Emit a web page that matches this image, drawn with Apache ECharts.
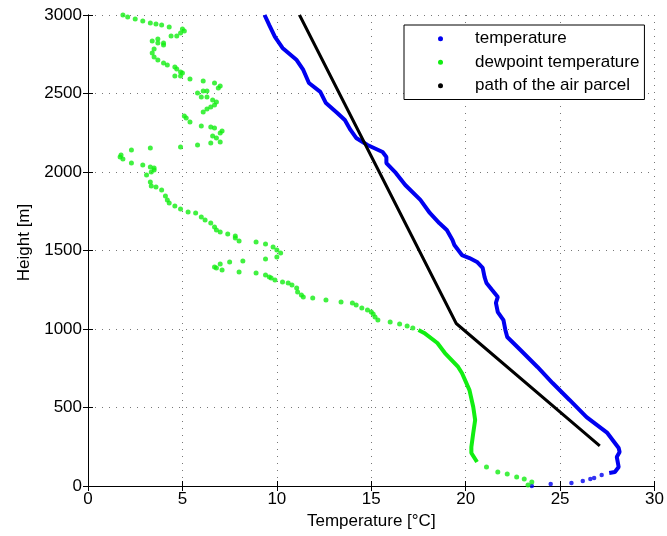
<!DOCTYPE html>
<html>
<head>
<meta charset="utf-8">
<script src="https://cdn.jsdelivr.net/npm/echarts@6/dist/echarts.min.js"></script>
<style>
  html, body { margin: 0; padding: 0; background: #fff; }
  #chart { width: 667px; height: 536px; }
</style>
</head>
<body>
<div id="chart"></div>
<script>
// temperature sounding, dense part drawn as a line: [temperature °C, height m]
const tempLine = [
    [27.6, 83], [27.9, 89], [28.1, 121], [28.0, 185], [28.15, 217], [28.1, 242],
    [27.5, 338], [26.4, 439], [25.5, 548], [24.6, 656], [23.8, 758], [22.9, 866],
    [22.2, 949], [22.1, 994], [22.0, 1057], [21.7, 1108], [21.6, 1166], [21.7, 1204],
    [21.4, 1248], [21.1, 1293], [21.0, 1331], [20.9, 1389], [20.6, 1427], [20.2, 1452],
    [19.8, 1471], [19.4, 1535], [19.3, 1567], [19.0, 1631], [18.6, 1675], [18.1, 1739],
    [17.6, 1822], [16.8, 1917], [16.3, 1994], [15.8, 2057], [15.8, 2096], [15.6, 2127],
    [14.8, 2172], [14.2, 2217], [13.9, 2268], [13.6, 2331], [13.2, 2376], [12.6, 2439],
    [12.3, 2510], [11.7, 2567], [11.4, 2650], [11.05, 2713], [10.3, 2790], [9.9, 2860],
    [9.6, 2936], [9.35, 3000]
];
// temperature readings near the ground (separate dots)
const tempDots = [
    [23.5, 0], [24.5, 13], [25.6, 19], [26.2, 32], [26.6, 45], [26.8, 51], [27.2, 70]
];

// dewpoint, dense part 150-1000 m
const dewLine = [
    [20.6, 153], [20.3, 210], [20.3, 248], [20.4, 338], [20.5, 420], [20.4, 503],
    [20.2, 611], [19.8, 720], [19.6, 758], [18.9, 847], [18.5, 911], [17.8, 975], [17.5, 994]
];
// dewpoint, scattered readings
const dewDots = [
    [23.3, 6], [23.5, 25], [23.1, 45], [22.7, 57], [22.2, 76], [21.7, 89], [21.1, 121],
    [17.2, 1006], [16.9, 1019], [16.5, 1032], [16.0, 1045], [15.35, 1057], [15.2, 1076],
    [15.1, 1096], [15.0, 1108], [14.8, 1121], [14.5, 1134], [14.2, 1153], [14.0, 1166],
    [13.4, 1172], [12.6, 1185], [11.9, 1197], [11.4, 1204], [11.3, 1217], [11.1, 1236],
    [11.05, 1261], [10.8, 1280], [10.6, 1293], [10.3, 1299], [9.9, 1312], [9.7, 1325],
    [9.6, 1331], [9.4, 1344], [8.9, 1357], [8.0, 1363], [7.1, 1376], [6.8, 1389],
    [6.7, 1395], [7.0, 1414], [7.5, 1427], [8.2, 1433], [9.4, 1446], [10.0, 1459],
    [10.2, 1484], [10.0, 1503], [9.8, 1522], [9.4, 1541], [8.9, 1554], [8.0, 1561],
    [7.8, 1580], [7.8, 1592], [7.4, 1605], [7.0, 1618], [6.8, 1631], [6.7, 1650],
    [6.5, 1675], [6.2, 1694], [6.0, 1713], [5.7, 1739], [5.3, 1745], [4.9, 1764],
    [4.6, 1783], [4.3, 1803], [4.2, 1822], [4.1, 1847], [3.9, 1885], [3.6, 1904],
    [3.35, 1911], [3.3, 1936], [3.1, 1981], [3.35, 2000], [3.5, 2013], [3.5, 2026],
    [3.3, 2032], [2.9, 2045], [2.3, 2057], [1.85, 2083], [1.7, 2096], [1.75, 2108],
    [2.3, 2140], [3.3, 2153], [4.9, 2159], [5.8, 2172], [6.5, 2185], [7.0, 2191],
    [6.8, 2217], [6.6, 2229], [7.0, 2248], [7.1, 2261], [6.7, 2280], [6.5, 2287],
    [6.0, 2293], [5.4, 2318], [5.2, 2344], [5.1, 2357], [6.1, 2382], [6.3, 2401],
    [6.5, 2414], [6.7, 2427], [6.8, 2446], [6.6, 2459], [6.3, 2478], [6.0, 2478],
    [5.8, 2503], [6.1, 2516], [6.3, 2516], [6.9, 2535], [7.0, 2548], [6.7, 2567],
    [6.1, 2580], [5.4, 2592], [4.9, 2611], [4.6, 2611], [5.0, 2631], [4.9, 2637],
    [4.7, 2656], [4.6, 2669], [4.2, 2682], [4.0, 2694], [3.7, 2713], [3.5, 2733],
    [3.4, 2758], [3.5, 2783], [4.0, 2809], [4.0, 2822], [3.7, 2822], [3.4, 2834],
    [3.7, 2847], [4.4, 2866], [4.7, 2866], [4.9, 2885], [5.1, 2898], [5.0, 2911],
    [4.3, 2924], [3.9, 2936], [3.6, 2943], [3.3, 2949], [2.9, 2962], [2.5, 2975],
    [2.1, 2987], [1.85, 3000]
];

// path of the air parcel
const parcelPath = [[11.2, 3000], [19.5, 1035], [27.1, 255]];

const legendNames = ['temperature', 'dewpoint temperature', 'path of the air parcel'];
const FONT = 'Liberation Sans, Arial, Helvetica, sans-serif';
const BLUE = '#0000f0';
const GREEN = '#11ee11';

const chart = echarts.init(document.getElementById('chart'));

const frameAxis = {
    min: 0,
    axisLine: { show: true, lineStyle: { color: '#000', width: 1 } },
    axisTick: { show: true, inside: true, length: 5, lineStyle: { color: '#000' } },
    axisLabel: { show: false },
    splitLine: { show: false }
};
const gridDots = { show: true, lineStyle: { color: '#777', type: [1, 6], width: 1 } };

chart.setOption({
    backgroundColor: '#fff',
    animation: false,
    grid: { left: 88, right: 12, top: 15, bottom: 50 },
    legend: {
        data: legendNames,
        orient: 'vertical',
        left: 404,
        top: 25,
        padding: [2, 5, 2, 34],
        itemGap: 0,
        itemWidth: 5,
        itemHeight: 5,
        icon: 'circle',
        backgroundColor: '#fff',
        borderColor: '#000',
        borderWidth: 1,
        borderRadius: 0,
        textStyle: { fontFamily: FONT, fontSize: 17, color: '#000', lineHeight: 23.5, padding: [0, 0, 0, 27] }
    },
    xAxis: [
        {
            type: 'value', min: 0, max: 30, interval: 5,
            name: 'Temperature [°C]', nameLocation: 'middle', nameGap: 27,
            nameTextStyle: { fontFamily: FONT, fontSize: 17, color: '#000' },
            axisLine: { show: true, onZero: false, lineStyle: { color: '#000', width: 1 } },
            axisTick: { show: true, inside: true, length: 5, lineStyle: { color: '#000' } },
            axisLabel: { fontFamily: FONT, fontSize: 17, color: '#000', margin: 5 },
            splitLine: gridDots
        },
        Object.assign({}, frameAxis, { type: 'value', position: 'top', max: 30, interval: 5 })
    ],
    yAxis: [
        {
            type: 'value', min: 0, max: 3000, interval: 500,
            name: 'Height [m]', nameLocation: 'middle', nameGap: 44,
            nameTextStyle: { fontFamily: FONT, fontSize: 17, color: '#000', padding: [0, 0, 0, 16] },
            axisLine: { show: true, onZero: false, lineStyle: { color: '#000', width: 1 } },
            axisTick: { show: true, inside: true, length: 5, lineStyle: { color: '#000' } },
            axisLabel: { fontFamily: FONT, fontSize: 17, color: '#000', margin: 6, formatter: v => String(v) },
            splitLine: gridDots
        },
        Object.assign({}, frameAxis, { type: 'value', position: 'right', max: 3000, interval: 500 })
    ],
    series: [
        {
            name: 'temperature', type: 'line', data: tempLine,
            symbol: 'none', itemStyle: { color: BLUE },
            lineStyle: { color: BLUE, width: 4 }
        },
        {
            name: 'temperature', type: 'scatter', data: tempDots,
            symbolSize: 4.5, itemStyle: { color: BLUE }
        },
        {
            name: 'dewpoint temperature', type: 'line', data: dewLine,
            symbol: 'none', itemStyle: { color: GREEN },
            lineStyle: { color: GREEN, width: 4 }
        },
        {
            name: 'dewpoint temperature', type: 'scatter', data: dewDots,
            symbolSize: 5, itemStyle: { color: GREEN }
        },
        {
            name: 'path of the air parcel', type: 'line', data: parcelPath,
            symbol: 'none', itemStyle: { color: '#000' },
            lineStyle: { color: '#000', width: 3 }
        }
    ]
});
</script>
</body>
</html>
